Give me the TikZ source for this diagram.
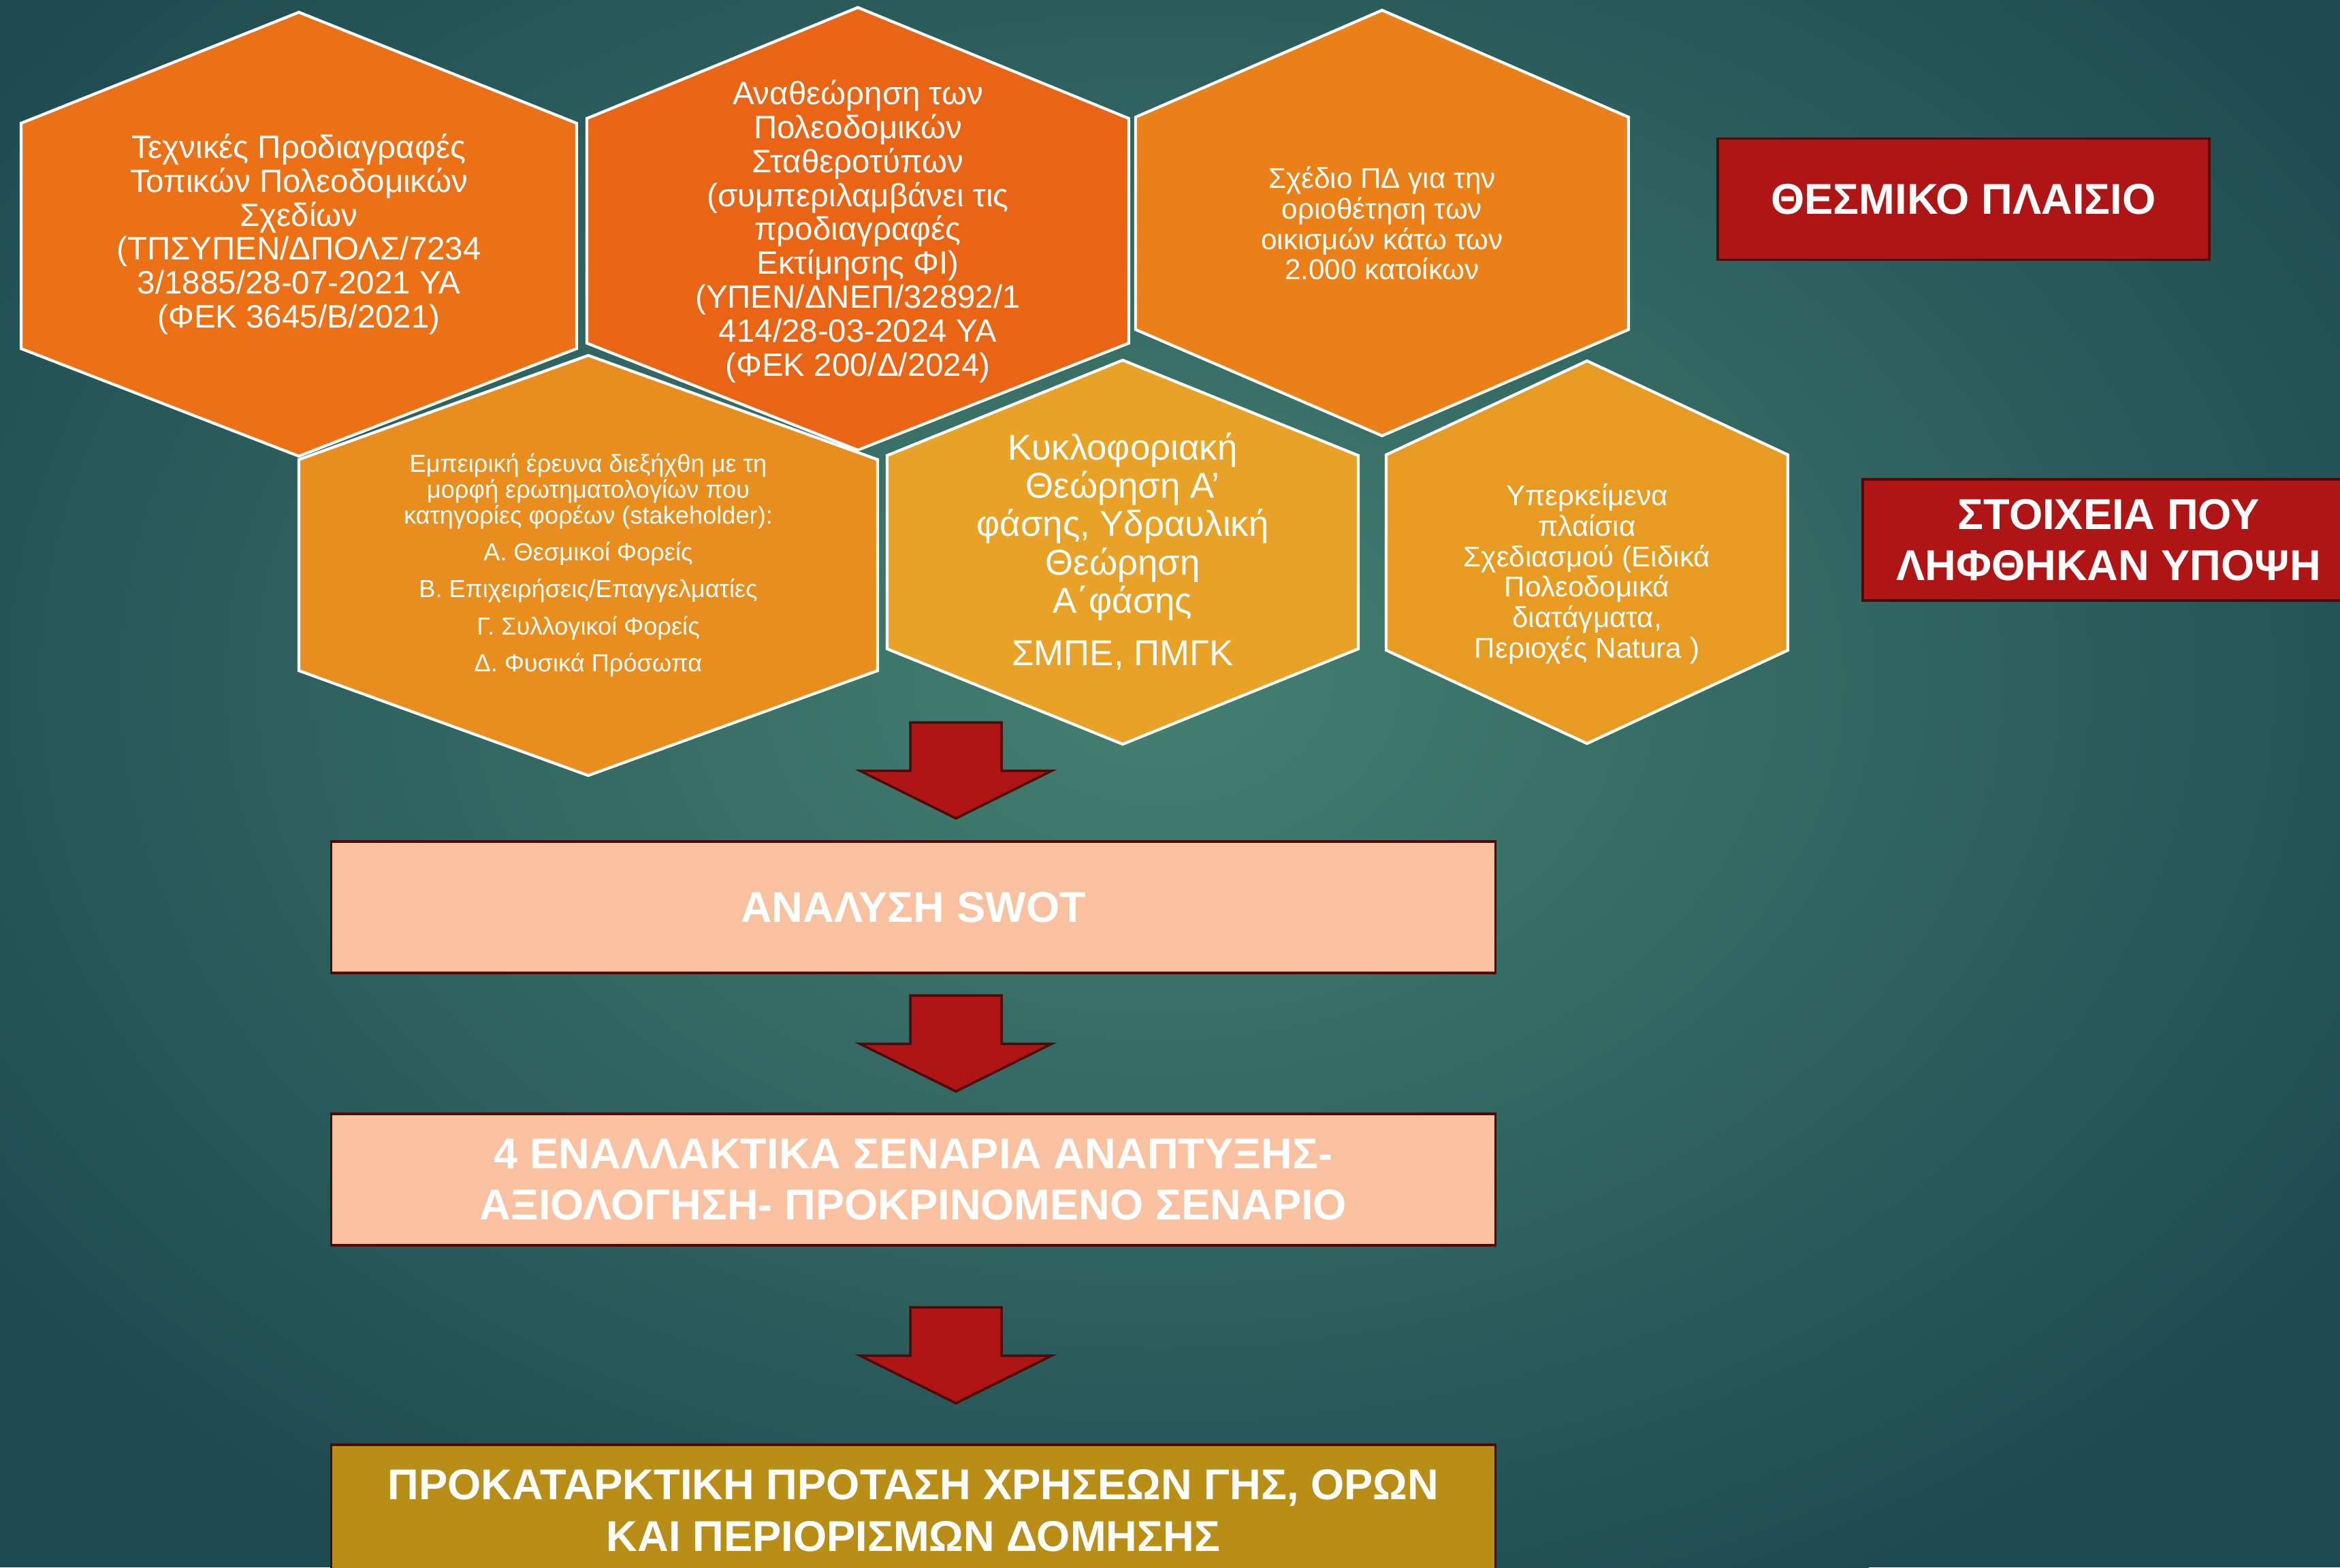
\documentclass[tikz,border=0pt]{standalone}
\usepackage{fontspec}
\setmainfont{Liberation Sans}
\definecolor{bgdark}{RGB}{30,75,82}
\definecolor{bglight}{RGB}{68,128,113}
\definecolor{hexA}{RGB}{236,113,22}
\definecolor{hexB}{RGB}{233,100,21}
\definecolor{hexC}{RGB}{235,128,25}
\definecolor{hexD}{RGB}{234,141,31}
\definecolor{hexE}{RGB}{232,162,39}
\definecolor{hexF}{RGB}{232,155,34}
\definecolor{boxred}{RGB}{175,21,21}
\definecolor{boxredline}{RGB}{77,10,10}
\definecolor{peach}{RGB}{249,193,160}
\definecolor{mustard}{RGB}{184,142,23}
\newcommand\picwidth{3437}
\newcommand\picheight{2302}
\newcommand\arrowx{1404}
\newcommand\boxx{1341.5}

\begin{document}
\begin{tikzpicture}[x = 0.01cm, y = -0.01cm, line width = 1.1pt,
	hexagon/.style = {draw = white, line width = 1.2pt, line join = miter},
	hextext/.style = {text = white, align = center, inner sep = 0pt},
	redbox/.style = {fill = boxred, draw = boxredline, text = white, align = center, minimum width = 7.22cm, minimum height = 1.78cm, font = \bfseries\fontsize{18pt}{21.5pt}\selectfont},
	flowbox/.style = {draw = boxredline, text = white, align = center, minimum width = 17.09cm, minimum height = 1.93cm, font = \bfseries\fontsize{18pt}{21.5pt}\selectfont},
	blockarrow/.style = {fill = boxred, draw = boxredline, line width = 1pt, line join = miter}]
	\useasboundingbox (0, 0) rectangle (\picwidth, \picheight);
	\clip (0, 0) rectangle (\picwidth, \picheight);

	% Hintergrund:
	\fill [bgdark] (0, 0) rectangle (\picwidth, \picheight);
	\shade [inner color = bglight, outer color = bgdark] (1700, 1000) ellipse (21cm and 15cm);

	% Sechsecke: cx/hw/top/s1/s2/bottom/colour
	\foreach \cx/\hw/\top/\sa/\sb/\bot/\col in {
		439/408/18/181/512/670/hexA, 1260/398/11/174/504/661/hexB, 2030/362/15/172/484/640/hexC,
		864/425/522/675/985/1139/hexD, 1649/346/529/669/953/1093/hexE, 2331/295/530/668/955/1092/hexF} {
		\filldraw [hexagon, fill = \col] (\cx, \top) -- ({\cx+\hw}, \sa) -- ({\cx+\hw}, \sb) -- (\cx, \bot)
			-- ({\cx-\hw}, \sb) -- ({\cx-\hw}, \sa) -- cycle;
	}

	\begin{scope}[every node/.append style = hextext]
		\node [font = \fontsize{13.5pt}{14.2pt}\selectfont] (tpsyp) at (439, 344) {Τεχνικές Προδιαγραφές\\Τοπικών Πολεοδομικών\\Σχεδίων\\(ΤΠΣΥΠΕΝ/ΔΠΟΛΣ/7234\\3/1885/28-07-2021 ΥΑ\\(ΦΕΚ 3645/Β/2021)};
		\node [font = \fontsize{13.5pt}{14.2pt}\selectfont] (anatheorisi) at (1260, 340) {Αναθεώρηση των\\Πολεοδομικών\\Σταθεροτύπων\\(συμπεριλαμβάνει τις\\προδιαγραφές\\Εκτίμησης ΦΙ)\\(ΥΠΕΝ/ΔΝΕΠ/32892/1\\414/28-03-2024 ΥΑ\\(ΦΕΚ 200/Δ/2024)};
		\node [font = \fontsize{12pt}{12.7pt}\selectfont] (sxedio) at (2030, 328) {Σχέδιο ΠΔ για την\\οριοθέτηση των\\οικισμών κάτω των\\2.000 κατοίκων};
		\node [font = \fontsize{10.3pt}{10.8pt}\selectfont] (ereuna) at (864, 830) {Εμπειρική έρευνα διεξήχθη με τη\\μορφή ερωτηματολογίων που\\κατηγορίες φορέων (stakeholder):\\[4.6pt]Α. Θεσμικοί Φορείς\\[4.6pt]Β. Επιχειρήσεις/Επαγγελματίες\\[4.6pt]Γ. Συλλογικοί Φορείς\\[4.6pt]Δ. Φυσικά Πρόσωπα};
		\node [font = \fontsize{15pt}{16pt}\selectfont] (kykloforia) at (1649, 810) {Κυκλοφοριακή\\Θεώρηση Α’\\φάσης, Υδραυλική\\Θεώρηση\\Α΄φάσης\\[6pt]ΣΜΠΕ, ΠΜΓΚ};
		\node [font = \fontsize{12pt}{12.7pt}\selectfont] (yperkeimena) at (2331, 843) {Υπερκείμενα\\πλαίσια\\Σχεδιασμού (Ειδικά\\Πολεοδομικά\\διατάγματα,\\Περιοχές Natura )};
	\end{scope}

	% Rechte Kästen:
	\node [redbox] (thesmiko) at (2884, 292.5) {ΘΕΣΜΙΚΟ ΠΛΑΙΣΙΟ};
	\node [redbox] (stoixeia) at (3097, 793) {ΣΤΟΙΧΕΙΑ ΠΟΥ\\ΛΗΦΘΗΚΑΝ ΥΠΟΨΗ};

	% Pfeile:
	\foreach \y in {1061, 1462, 1920} {
		\filldraw [blockarrow] ({\arrowx-67}, \y) -- ({\arrowx+67}, \y) -- ({\arrowx+67}, \y+71) -- ({\arrowx+141}, \y+71)
			-- (\arrowx, \y+141) -- ({\arrowx-141}, \y+71) -- ({\arrowx-67}, \y+71) -- cycle;
	}

	% Ablauf:
	\node [flowbox, fill = peach] (swot) at (\boxx, 1332.5) {ΑΝΑΛΥΣΗ SWOT};
	\node [flowbox, fill = peach] (senaria) at (\boxx, 1732.5) {4 ΕΝΑΛΛΑΚΤΙΚΑ ΣΕΝΑΡΙΑ ΑΝΑΠΤΥΞΗΣ-\\ΑΞΙΟΛΟΓΗΣΗ- ΠΡΟΚΡΙΝΟΜΕΝΟ ΣΕΝΑΡΙΟ};
	\node [flowbox, fill = mustard] (protasi) at (\boxx, 2218.5) {ΠΡΟΚΑΤΑΡΚΤΙΚΗ ΠΡΟΤΑΣΗ ΧΡΗΣΕΩΝ ΓΗΣ, ΟΡΩΝ\\ΚΑΙ ΠΕΡΙΟΡΙΣΜΩΝ ΔΟΜΗΣΗΣ};
\end{tikzpicture}
\end{document}
